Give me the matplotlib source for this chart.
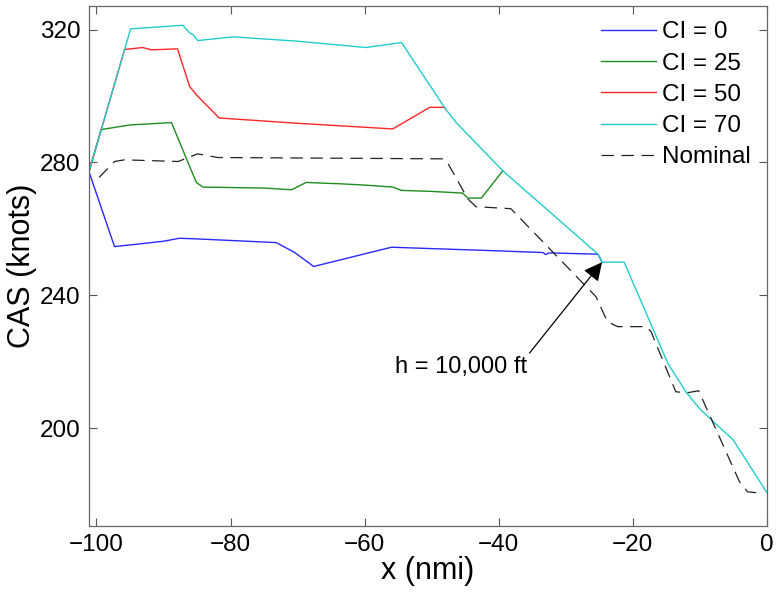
import numpy as np
import matplotlib
matplotlib.use("Agg")
import matplotlib.pyplot as plt

plt.rcParams['font.family'] = ['Liberation Sans', 'DejaVu Sans']

# CI = 0
x_ci0 = [-101.1, -97.3, -94.0, -90.0, -87.6, -85.0, -73.2, -70.5, -67.6, -56.0, -40.0, -33.4, -33.0, -32.5, -25.2, -24.6]
y_ci0 = [277.2, 254.7, 255.4, 256.3, 257.2, 257.0, 255.9, 253.0, 248.7, 254.5, 253.4, 252.9, 252.3, 252.8, 252.4, 250.0]
# CI = 25
x_ci25 = [-101.1, -99.3, -95.0, -88.8, -85.1, -84.1, -75.0, -70.9, -68.7, -66.5, -63.7, -60.0, -55.8, -54.5, -50.0, -45.4, -44.6, -42.6, -39.4]
y_ci25 = [277.2, 289.9, 291.3, 292.0, 274.0, 272.6, 272.3, 271.8, 274.0, 273.8, 273.6, 273.2, 272.6, 271.6, 271.3, 270.8, 269.3, 269.3, 277.5]
# CI = 50
x_ci50 = [-101.1, -95.8, -93.1, -91.8, -87.9, -86.1, -85.1, -81.7, -70.0, -55.8, -50.3, -48.1, -47.9]
y_ci50 = [277.2, 314.0, 314.6, 313.9, 314.2, 302.9, 300.4, 293.4, 291.8, 290.1, 296.6, 296.6, 296.0]
# CI = 70
x_ci70 = [-101.1, -94.9, -87.1, -86.1, -85.6, -84.9, -82.5, -79.6, -70.0, -59.8, -54.5, -47.9, -46.3, -39.4,
          -25.2, -24.6, -21.3, -14.8, -12.1, -10.1, -7.1, -5.1, 0.0]
y_ci70 = [277.2, 320.2, 321.3, 319.0, 318.5, 316.7, 317.2, 317.8, 316.5, 314.6, 316.1, 296.0, 291.9, 277.5,
          252.4, 250.0, 250.0, 219.6, 211.0, 206.0, 200.3, 196.7, 180.6]
# Nominal
x_nom = [-99.6, -97.3, -95.8, -87.8, -84.9, -81.9, -48.3, -47.6, -44.6, -43.4, -38.2, -25.5, -23.8, -22.3,
         -18.0, -17.3, -13.6, -11.9, -10.2, -4.1, -2.9, -0.6]
y_nom = [275.5, 280.3, 280.8, 280.3, 282.6, 281.5, 281.1, 279.8, 269.0, 266.7, 266.1, 239.6, 232.1, 230.6,
         230.6, 229.1, 211.0, 210.7, 211.3, 183.9, 180.9, 180.4]

fig = plt.figure(figsize=(7.78, 5.95), dpi=100)
ax = fig.add_axes([0.1144, 0.1165, 0.8715, 0.874])

ax.plot(x_ci0, y_ci0, color='#2a2aff', lw=1.0, label='CI = 0')
ax.plot(x_ci25, y_ci25, color='#1e8c1e', lw=1.0, label='CI = 25')
ax.plot(x_ci50, y_ci50, color='#ff2626', lw=1.0, label='CI = 50')
ax.plot(x_ci70, y_ci70, color='#22cccc', lw=1.0, label='CI = 70')
nom, = ax.plot(x_nom, y_nom, color='#222222', lw=0.9, label='Nominal')
nom.set_dashes((10, 6))

ax.annotate('h = 10,000 ft', xy=(-24.6, 250.0), xytext=(-45.6, 218.5),
            ha='center', va='center', fontsize=17,
            arrowprops=dict(arrowstyle='-|>', color='black', lw=0.9,
                            mutation_scale=28, relpos=(1.0, 1.0), shrinkA=0, shrinkB=0))

ax.set_xlim(-101.1, 0)
ax.set_ylim(170.7, 327.2)
ax.set_xticks([-100, -80, -60, -40, -20, 0])
ax.set_xticklabels(['\u2212100', '\u221280', '\u221260', '\u221240', '\u221220', '0'])
ax.set_yticks([200, 240, 280, 320])
ax.tick_params(direction='in', top=True, right=True, length=6, width=0.8,
               colors='#555555', labelcolor='black', labelsize=17.5, pad=6)
for s in ax.spines.values():
    s.set_color('#666666')
    s.set_linewidth(0.9)

ax.set_xlabel('x (nmi)', fontsize=22, labelpad=0)
ax.set_ylabel('CAS (knots)', fontsize=22, labelpad=2)

ax.legend(loc='upper right', frameon=False, fontsize=17.5, handlelength=2.3,
          handletextpad=0.25, labelspacing=0.38, borderaxespad=0.25)

fig.savefig('out.png', dpi=100)
